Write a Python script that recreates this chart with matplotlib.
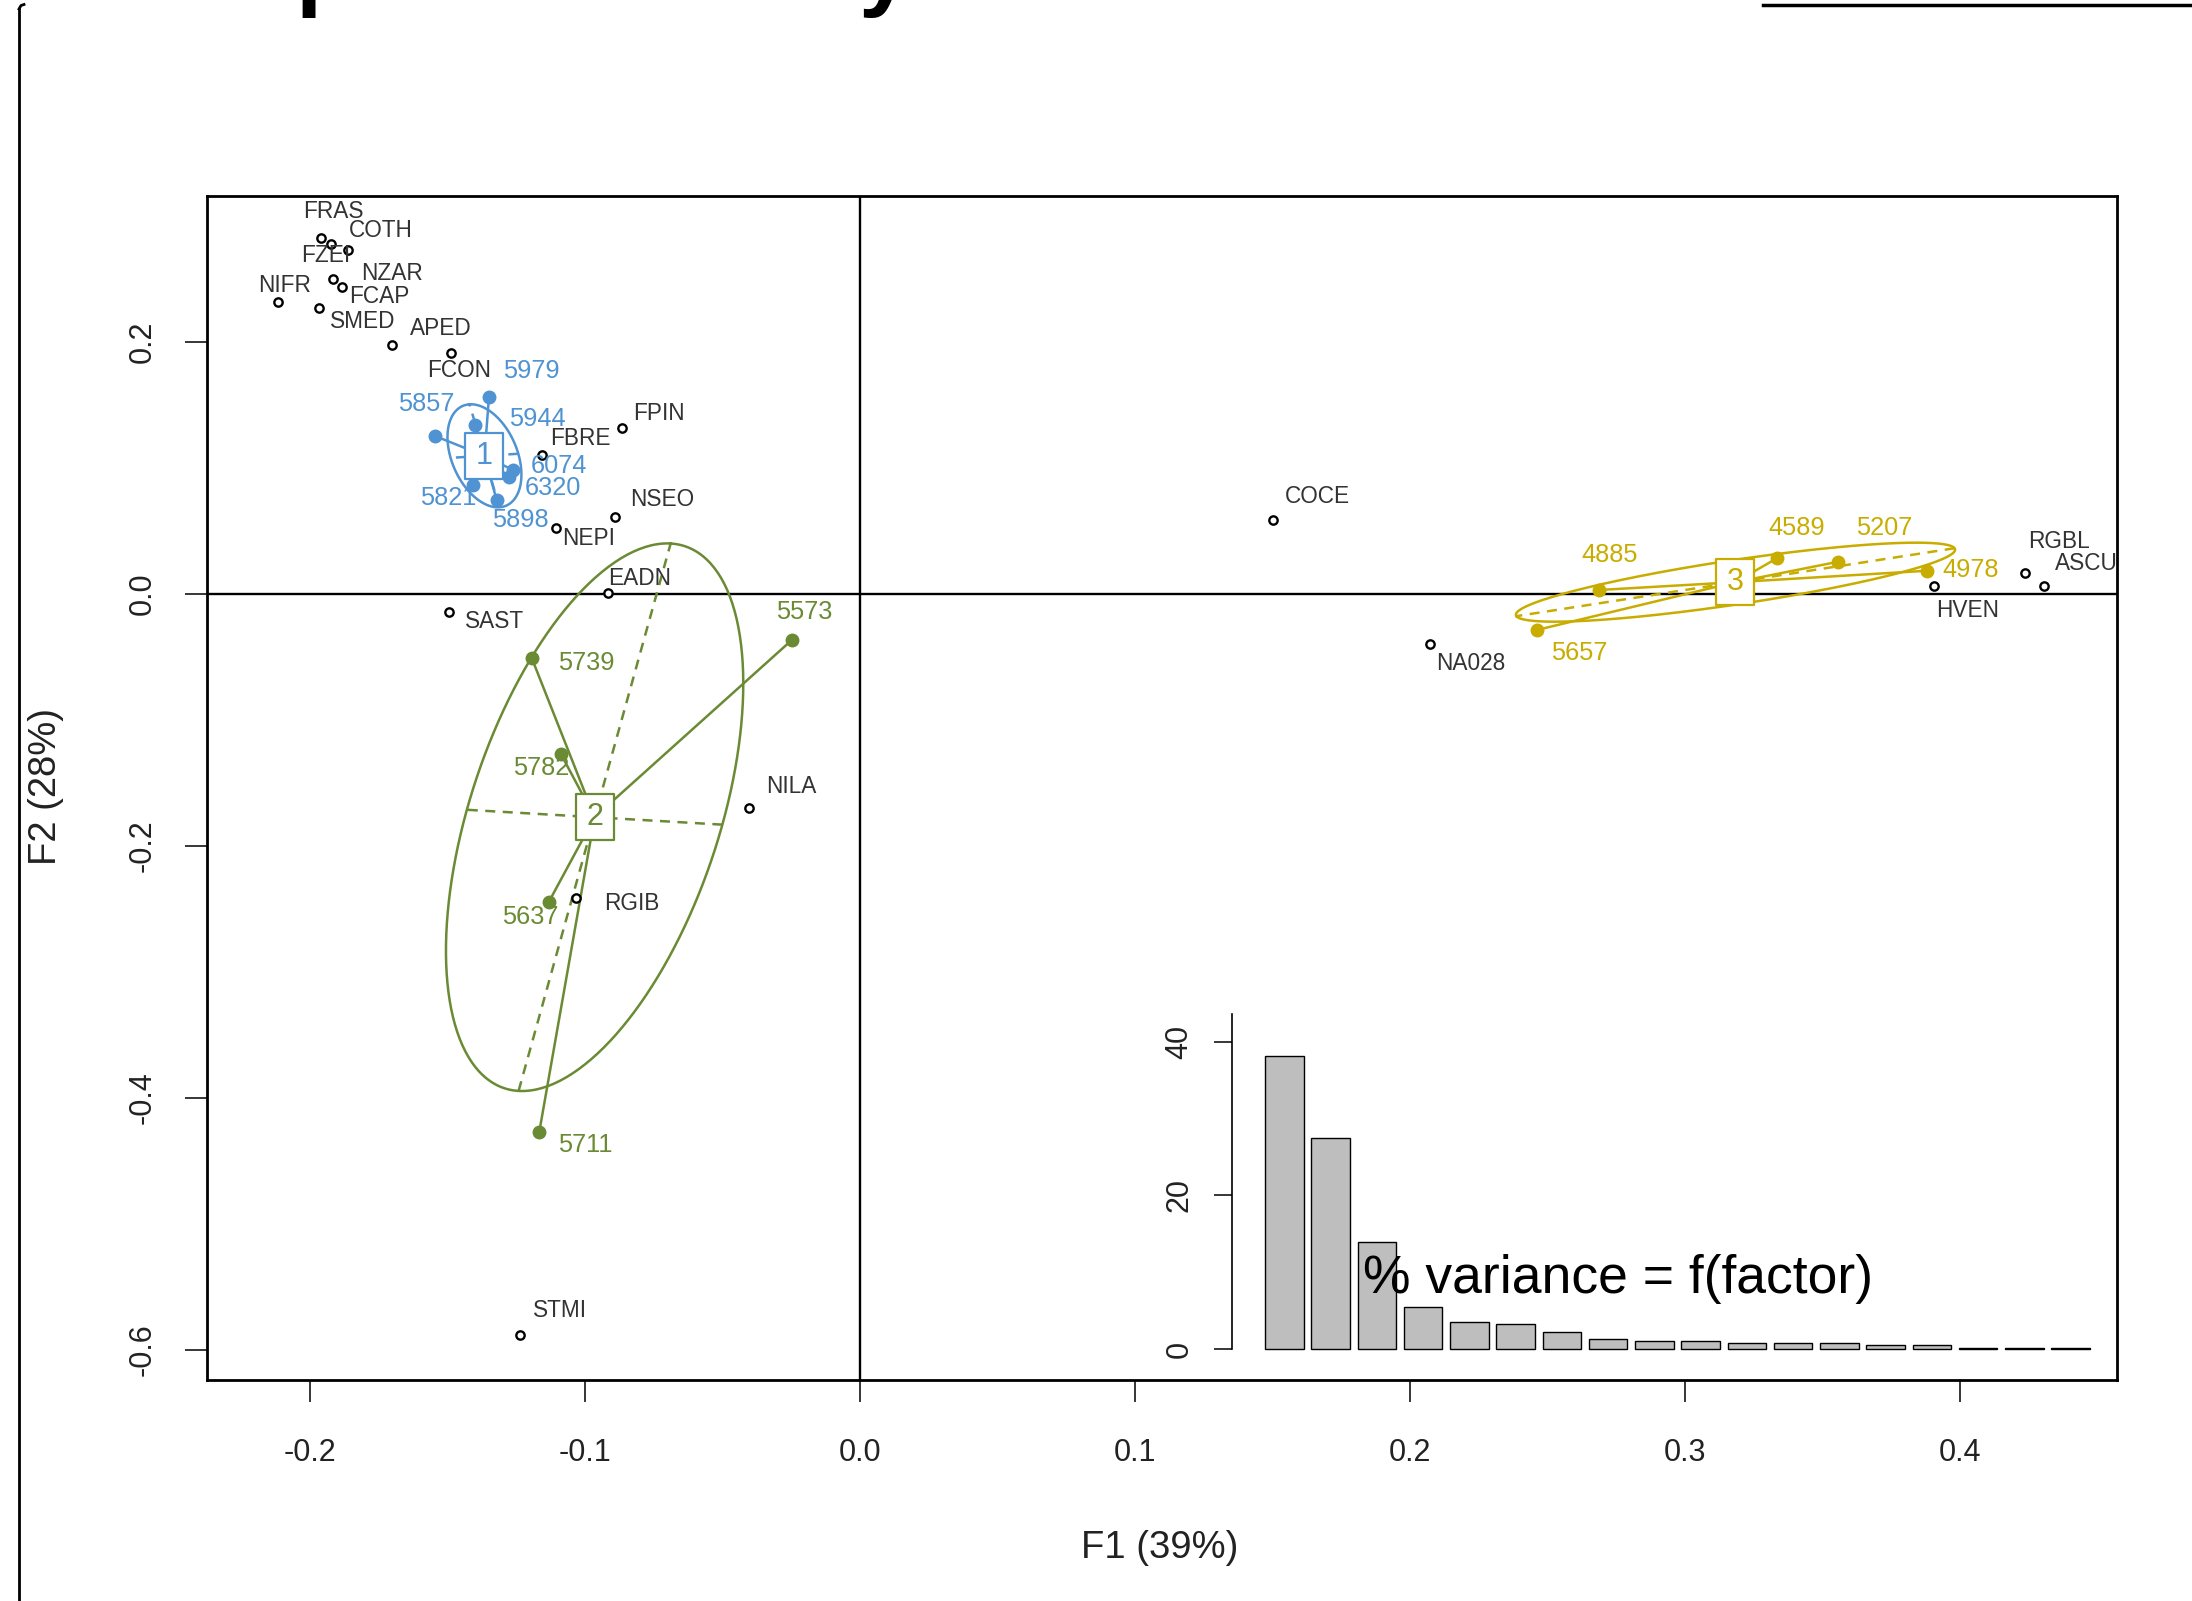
import numpy as np
import matplotlib
matplotlib.use('Agg')
import matplotlib.pyplot as plt
from matplotlib.path import Path
from matplotlib.lines import Line2D

plt.rcParams['font.family'] = ['Liberation Sans', 'DejaVu Sans']
plt.rcParams['axes.unicode_minus'] = False

# ---------------- data ----------------
species_names = ['FRAS', 'FZEI', 'COTH', 'NZAR', 'FCAP', 'NIFR', 'SMED', 'APED', 'FCON',
                 'FPIN', 'FBRE', 'NSEO', 'NEPI', 'EADN', 'SAST', 'NILA', 'RGIB', 'STMI',
                 'COCE', 'NA028', 'RGBL', 'ASCU', 'HVEN']
species_x = [-0.1958, -0.1922, -0.1861, -0.1915, -0.1884, -0.2117, -0.1968, -0.1701, -0.1488,
             -0.0865, -0.1157, -0.0890, -0.1105, -0.0918, -0.1494, -0.0402, -0.1033, -0.1238,
             0.1500, 0.2072, 0.4235, 0.4304, 0.3903]
species_y = [0.2828, 0.2775, 0.2730, 0.2498, 0.2439, 0.2320, 0.2267, 0.1976, 0.1915,
             0.1315, 0.1103, 0.0614, 0.0521, 0.0010, -0.0145, -0.1701, -0.2415, -0.5881,
             0.0587, -0.0397, 0.0164, 0.0063, 0.0063]

group1_names = ['5979', '5944', '5857', '6074', '6320', '5821', '5898']
group1_x = [-0.1349, -0.1400, -0.1545, -0.1262, -0.1275, -0.1406, -0.1321]
group1_y = [0.1563, 0.1341, 0.1254, 0.0984, 0.0926, 0.0865, 0.0746]

group2_names = ['5573', '5739', '5782', '5637', '5711']
group2_x = [-0.0248, -0.1193, -0.1087, -0.1131, -0.1166]
group2_y = [-0.0365, -0.0511, -0.1272, -0.2442, -0.4267]

group3_names = ['4885', '4589', '5207', '4978', '5657']
group3_x = [0.2686, 0.3332, 0.3555, 0.3879, 0.2459]
group3_y = [0.0032, 0.0283, 0.0256, 0.0185, -0.0286]

group_ids = ['1', '2', '3']

eig_percent = [38.2, 27.5, 13.9, 5.5, 3.45, 3.3, 2.15, 1.3, 1.0, 1.0,
               0.75, 0.75, 0.75, 0.55, 0.55, 0.12, 0.12, 0.12]

x_ticks = [-0.2, -0.1, 0.0, 0.1, 0.2, 0.3, 0.4]
y_ticks = [-0.6, -0.4, -0.2, 0.0, 0.2]
inset_ticks = [0, 20, 40]
x_label = 'F1 (39%)'
y_label = 'F2 (28%)'
inset_title = '% variance = f(factor)'

# ---------------- layout (pixel offsets of labels) ----------------
species_off = [(-18.7, -26), (-30.7, 10.7), (1.2, -19.3), (27.5, -6), (7.7, 9.3),
               (-19.5, -16.7), (11.5, 13.4), (17.6, -16.7), (-23.7, 17.3),
               (11.5, -15), (8.4, -16.7), (15.3, -16.7), (5.8, 10), (1, -14.4),
               (16, 9.4), (16.4, -22.3), (28.6, 5), (13.4, -25), (12.3, -23.3),
               (5.7, 19.3), (3, -31.6), (10.8, -22.7), (2.8, 24.7)]
group1_off = [(14, -26.3), (34.2, -5.7), (-37.1, -32), (17.6, -4), (15.2, 11), (-53.3, 13.3), (-5.1, 20)]
group2_off = [(-15.7, -28.3), (26, 5), (-47.7, 13.4), (-47.3, 15), (18.4, 13.3)]
group3_off = [(-18, -35), (-8.5, -30), (18, -33.4), (15, -0.7), (14.2, 22.7)]

colors = ['#4F93D2', '#6A8A34', '#C8AD00']

W, H = 2192, 1601
DPI = 100
fig = plt.figure(figsize=(W / DPI, H / DPI), dpi=DPI)
fig.patch.set_facecolor('white')


def fx(px):
    return px / W


def fy(py):
    return 1 - py / H


ax = fig.add_axes([fx(207), fy(1380), (2117 - 207) / W, (1380 - 196) / H])
ax.set_xlim(-0.2374, 0.4569)
ax.set_ylim(-0.6238, 0.3159)

for s in ax.spines.values():
    s.set_linewidth(2.0)
    s.set_color('black')

ax.set_xticks(x_ticks)
ax.set_xticklabels(['%.1f' % v for v in x_ticks])
ax.set_yticks(y_ticks)
ax.set_yticklabels(['%.1f' % v for v in y_ticks])
ax.tick_params(axis='both', direction='out', length=15.8, width=1.1, labelsize=22,
               labelcolor='#222222')
ax.tick_params(axis='x', pad=26)
ax.tick_params(axis='y', pad=20, labelrotation=90)
for lab in ax.get_yticklabels():
    lab.set_va('center')

ax.axhline(0, color='black', lw=1.7, zorder=1)
ax.axvline(0, color='black', lw=1.7, zorder=1)

# species points
ax.plot(species_x, species_y, 'o', ms=6, mfc='white', mec='black', mew=1.7, zorder=3, ls='none')
for name, x, y, (dx, dy) in zip(species_names, species_x, species_y, species_off):
    ax.annotate(name, (x, y), xytext=(dx, -dy), textcoords='offset pixels',
                ha='left', va='center', fontsize=16.3, color='#333333', zorder=7)

rect = Path([(-0.413, -0.5), (0.413, -0.5), (0.413, 0.5), (-0.413, 0.5), (-0.413, -0.5)],
            [Path.MOVETO, Path.LINETO, Path.LINETO, Path.LINETO, Path.CLOSEPOLY])


def draw_group(names, xs, ys, offs, col, gid, coeff=1.5):
    x = np.asarray(xs)
    y = np.asarray(ys)
    mx, my = x.mean(), y.mean()
    vx = ((x - mx) ** 2).mean()
    vy = ((y - my) ** 2).mean()
    cxy = ((x - mx) * (y - my)).mean()
    evals, evecs = np.linalg.eigh(np.array([[vx, cxy], [cxy, vy]]))
    a = coeff * np.sqrt(max(evals[1], 0))
    b = coeff * np.sqrt(max(evals[0], 0))
    v1 = evecs[:, 1]
    v2 = evecs[:, 0]
    t = np.linspace(0, 2 * np.pi, 300)
    ex = mx + a * np.cos(t) * v1[0] + b * np.sin(t) * v2[0]
    ey = my + a * np.cos(t) * v1[1] + b * np.sin(t) * v2[1]
    ax.plot(ex, ey, color=col, lw=1.8, zorder=2)
    for v, r in ((v1, a), (v2, b)):
        ax.plot([mx - r * v[0], mx + r * v[0]], [my - r * v[1], my + r * v[1]],
                color=col, lw=1.8, ls=(0, (4, 3)), zorder=2)
    for xi, yi in zip(x, y):
        ax.plot([mx, xi], [my, yi], color=col, lw=1.8, zorder=2)
    ax.plot(x, y, 'o', ms=9, color=col, mec=col, zorder=4, ls='none')
    for name, xi, yi, (dx, dy) in zip(names, x, y, offs):
        ax.annotate(name, (xi, yi), xytext=(dx, -dy), textcoords='offset pixels',
                    ha='left', va='center', fontsize=18.3, color=col, zorder=7)
    ax.plot([mx], [my], marker=rect, ms=33, mfc='white', mec=col, mew=1.6, zorder=5, ls='none')
    ax.text(mx, my, gid, ha='center', va='center', fontsize=22, color=col, zorder=6)


draw_group(group1_names, group1_x, group1_y, group1_off, colors[0], group_ids[0])
draw_group(group2_names, group2_x, group2_y, group2_off, colors[1], group_ids[1])
draw_group(group3_names, group3_x, group3_y, group3_off, colors[2], group_ids[2])

# axis labels
fig.text(fx(1160), fy(1548), x_label, ha='center', va='center', fontsize=27.5, color='#222222')
fig.text(fx(46), fy(786), y_label, ha='center', va='center', rotation=90, fontsize=27.5,
         color='#222222')

# inset eigenvalue barplot
iax = fig.add_axes([fx(1232), fy(1372), (2123 - 1232) / W, (1372 - 1011) / H])
iax.patch.set_alpha(0)
n = len(eig_percent)
pos = 0.7 + 1.2 * np.arange(n)
iax.bar(pos, eig_percent, width=1.0, color='#BEBEBE', edgecolor='black', linewidth=1.0)
iax.set_xlim(-0.656, 22.456)
iax.set_ylim(-3, 44)
for k in ('top', 'right', 'bottom'):
    iax.spines[k].set_visible(False)
iax.spines['left'].set_bounds(0, 43.6)
iax.spines['left'].set_linewidth(1.2)
iax.set_xticks([])
iax.set_yticks(inset_ticks)
iax.set_yticklabels([str(v) for v in inset_ticks])
iax.tick_params(axis='y', direction='out', length=13, width=1.1, labelsize=22, pad=14,
                labelrotation=90, labelcolor='#222222')
for lab in iax.get_yticklabels():
    lab.set_va('center')

fig.text(fx(1363), fy(1279), inset_title, ha='left', va='center', fontsize=38.5, color='black')

# fragments of the surrounding slide title (only descenders visible)
fig.text(fx(296), fy(-2.5), 'p', fontsize=68, fontweight='bold', va='baseline', ha='left',
         color='black')
fig.text(fx(858), fy(-2.5), 'y', fontsize=68, fontweight='bold', va='baseline', ha='left',
         color='black')
fig.add_artist(Line2D([fx(19), fx(19)], [fy(1601), fy(9)], transform=fig.transFigure,
                      color='black', lw=2.0))
fig.add_artist(Line2D([fx(19), fx(21), fx(24)], [fy(9), fy(5.5), fy(4.5)],
                      transform=fig.transFigure, color='black', lw=2.0))
fig.add_artist(Line2D([fx(1763), fx(2192)], [fy(5.5), fy(5.5)], transform=fig.transFigure,
                      color='black', lw=2.5))

fig.savefig('out.png', dpi=DPI, facecolor='white')
